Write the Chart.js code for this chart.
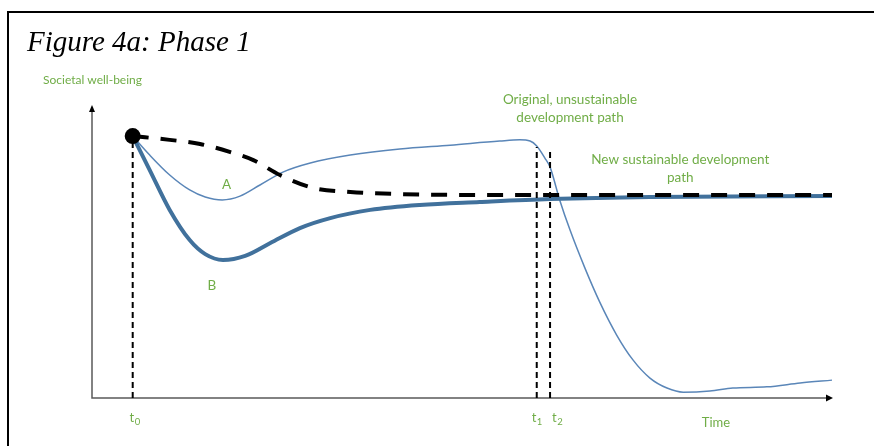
<!DOCTYPE html>
<html>
<head>
<meta charset="utf-8">
<script src="https://cdn.jsdelivr.net/npm/chart.js@4.4.1/dist/chart.umd.min.js"></script>
<style>
  body { margin: 0; background: #fff; }
  #wrap { width: 874px; height: 446px; }
</style>
</head>
<body>
<div id="wrap"><canvas id="phase-chart" width="874" height="446"></canvas></div>
<script>
// time axis runs 0..100, well-being axis 0..100 (conceptual units)
var originalX = [5.5, 7.8, 10.5, 13.2, 15.3, 17.6, 20, 22.7, 25.8, 29.5, 34.9, 41.6, 48.4, 55.1, 57.8, 59.2, 60.1, 61.2, 61.9, 63.2, 64.6, 66.6, 68.6, 70.9, 73.1, 75.4, 77.7, 79.9, 83.5, 86.6, 91.2, 95.7, 100];
var originalY = [89.4, 82.9, 76.1, 71, 68.6, 67.6, 68.9, 72.7, 77.1, 80.2, 82.9, 85, 86.3, 87.7, 88.1, 87.7, 86, 81.9, 78.8, 67.6, 57.3, 44.4, 32.8, 21.5, 13, 6.8, 3.4, 2, 2.4, 3.4, 3.8, 5.1, 6.1];

var pathBX = [5.5, 7.8, 10.5, 13.2, 15.3, 17.7, 20.7, 24.1, 28.1, 32.2, 37.6, 44.3, 52.4, 61.9, 75.4, 100];
var pathBY = [89.4, 77.8, 64.2, 53.9, 49.1, 47.1, 48.5, 52.9, 58, 61.4, 64.2, 65.9, 66.9, 67.9, 68.6, 68.9];

var pathAX = [5.5, 10.5, 14.6, 18.6, 21.8, 25.4, 29.9, 34.9, 41.6, 55.1, 100];
var pathAY = [89.4, 88.1, 86.7, 84, 81.2, 76.1, 71.7, 70.3, 69.6, 69.3, 69.3];

var markNames = ['0', '1', '2'];
var markTimes = [5.5, 60.1, 61.9];
var markTops = [89.4, 85.7, 85.3];

var green = '#70ad47';

function pts(xs, ys) {
    return xs.map(function (x, i) { return { x: x, y: ys[i] }; });
}

var markSets = markTimes.map(function (t, i) {
    return {
        data: [{ x: t, y: 0 }, { x: t, y: markTops[i] }],
        borderColor: '#000',
        borderWidth: 2,
        borderDash: [6, 4],
        pointRadius: 0,
        order: 3
    };
});

function drawSubT(ctx, name, cx, y) {
    ctx.font = '13px Lato';
    var w1 = ctx.measureText('t').width;
    ctx.font = '9.5px Lato';
    var w2 = ctx.measureText(name).width;
    var x0 = cx - (w1 + w2) / 2;
    ctx.textAlign = 'left';
    ctx.font = '13px Lato';
    ctx.fillText('t', x0, y);
    ctx.font = '9.5px Lato';
    ctx.fillText(name, x0 + w1 + 0.5, y + 3);
}

var decor = {
    id: 'decor',
    beforeDatasetsDraw: function (chart) {
        var ctx = chart.ctx;
        var xs = chart.scales.x, ys = chart.scales.y;
        var ox = xs.getPixelForValue(0), oy = ys.getPixelForValue(0);
        var ex = xs.getPixelForValue(100), ty = ys.getPixelForValue(100);
        ctx.save();
        // frame
        ctx.strokeStyle = '#000';
        ctx.lineWidth = 2;
        ctx.beginPath();
        ctx.moveTo(8, 446);
        ctx.lineTo(8, 12);
        ctx.lineTo(874, 12);
        ctx.stroke();
        // axes
        ctx.strokeStyle = '#595959';
        ctx.lineWidth = 1.5;
        ctx.beginPath();
        ctx.moveTo(ox, ty + 4);
        ctx.lineTo(ox, oy);
        ctx.lineTo(ex - 4, oy);
        ctx.stroke();
        ctx.fillStyle = '#000';
        ctx.beginPath();
        ctx.moveTo(ox, ty);
        ctx.lineTo(ox - 3, ty + 7);
        ctx.lineTo(ox + 3, ty + 7);
        ctx.closePath();
        ctx.fill();
        ctx.beginPath();
        ctx.moveTo(ex + 1, oy);
        ctx.lineTo(ex - 6, oy - 3.5);
        ctx.lineTo(ex - 6, oy + 3.5);
        ctx.closePath();
        ctx.fill();
        ctx.restore();
    },
    afterDraw: function (chart) {
        var ctx = chart.ctx;
        var xs = chart.scales.x, ys = chart.scales.y;
        ctx.save();
        ctx.fillStyle = '#000';
        ctx.textBaseline = 'alphabetic';
        ctx.textAlign = 'left';
        ctx.font = 'italic 29px "Liberation Serif"';
        ctx.fillText('Figure 4a: Phase 1', 27, 51);

        ctx.fillStyle = green;
        ctx.font = '12px Lato';
        ctx.fillText('Societal well-being', 43, 84);

        ctx.textAlign = 'center';
        ctx.font = '13.5px Lato';
        ctx.fillText('A', xs.getPixelForValue(18.2), ys.getPixelForValue(71.4));
        ctx.fillText('B', xs.getPixelForValue(16.2), ys.getPixelForValue(37.0));
        ctx.fillText('Original, unsustainable', xs.getPixelForValue(64.6), ys.getPixelForValue(100.3));
        ctx.fillText('development path', xs.getPixelForValue(64.6), ys.getPixelForValue(94.2));
        ctx.fillText('New sustainable development', xs.getPixelForValue(79.5), ys.getPixelForValue(79.8));
        ctx.fillText('path', xs.getPixelForValue(79.5), ys.getPixelForValue(73.7));
        ctx.font = '13px Lato';
        ctx.fillText('Time', 716, 427);

        markNames.forEach(function (n, i) {
            var off = i === 1 ? 0 : (i === 2 ? 7 : 2);
            drawSubT(ctx, n, xs.getPixelForValue(markTimes[i]) + off, 422);
        });
        ctx.restore();
    }
};

var chart = new Chart(document.getElementById('phase-chart'), {
    type: 'line',
    data: {
        datasets: [
            {
                data: [{ x: 5.5, y: 89.4 }],
                showLine: false,
                pointRadius: 8,
                pointBackgroundColor: '#000',
                pointBorderWidth: 0,
                order: 0
            },
            {
                data: pts(pathAX, pathAY),
                borderColor: '#000',
                borderWidth: 4,
                borderDash: [16, 12],
                cubicInterpolationMode: 'monotone',
                pointRadius: 0,
                order: 1
            },
            {
                data: pts(pathBX, pathBY),
                borderColor: '#41719c',
                borderWidth: 4,
                cubicInterpolationMode: 'monotone',
                pointRadius: 0,
                order: 4
            },
            {
                data: pts(originalX, originalY),
                borderColor: '#5a86b8',
                borderWidth: 1.5,
                cubicInterpolationMode: 'monotone',
                pointRadius: 0,
                order: 5
            }
        ].concat(markSets)
    },
    options: {
        responsive: false,
        animation: false,
        events: [],
        layout: { padding: { left: 92, right: 42, top: 105, bottom: 48 } },
        plugins: { legend: { display: false }, tooltip: { enabled: false } },
        scales: {
            x: { type: 'linear', min: 0, max: 100, display: false },
            y: { type: 'linear', min: 0, max: 100, display: false }
        },
        datasets: { line: { clip: false } }
    },
    plugins: [decor]
});
</script>
</body>
</html>
